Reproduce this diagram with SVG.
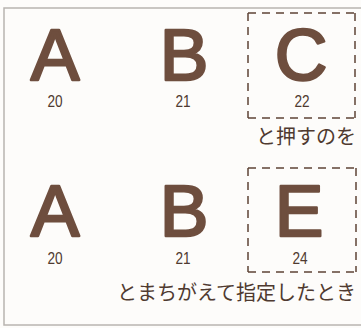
<svg xmlns="http://www.w3.org/2000/svg" width="361" height="328" viewBox="0 0 361 328">
<style>
.big{font-family:"Liberation Sans",Arial,sans-serif;font-weight:normal;font-size:73px;fill:#6e4e3e;stroke:#6e4e3e;stroke-width:2.4;stroke-linejoin:round;text-anchor:middle}
.num{font-family:"Liberation Sans",Arial,sans-serif;font-size:17px;fill:#4f3a30;text-anchor:middle}
.jp{font-family:"Noto Sans CJK JP","Noto Sans CJK SC",sans-serif;font-size:20px;fill:#4f3a30;text-anchor:end}
.dash{stroke:#5e4336;stroke-width:1.5;fill:none;stroke-dasharray:8 6}
</style>
<rect x="0" y="0" width="361" height="328" fill="#fdfcfa"/>
<rect x="4" y="8" width="370" height="317" fill="none" stroke="#b8b4b0" stroke-width="1.5"/>
<g id="row1-A"><text class="big" x="55" y="80">A</text><text class="num" x="55" y="107" transform="translate(55 0) scale(0.8 1) translate(-55 0)">20</text></g>
<g id="row1-B"><text class="big" x="184" y="80">B</text><text class="num" x="183" y="107" transform="translate(183 0) scale(0.8 1) translate(-183 0)">21</text></g>
<g id="row1-C"><text class="big" x="301" y="80">C</text><text class="num" x="302" y="107" transform="translate(302 0) scale(0.8 1) translate(-302 0)">22</text>
<g class="dash"><path d="M248 13H355"/><path d="M248 13V118"/><path d="M248 118H355"/><path d="M355 13V118"/></g></g>
<text class="jp" x="356" y="144">と押すのを</text>
<g id="row2-A"><text class="big" x="55" y="236">A</text><text class="num" x="55" y="264" transform="translate(55 0) scale(0.8 1) translate(-55 0)">20</text></g>
<g id="row2-B"><text class="big" x="184" y="236">B</text><text class="num" x="183" y="264" transform="translate(183 0) scale(0.8 1) translate(-183 0)">21</text></g>
<g id="row2-E"><text class="big" x="299" y="236">E</text><text class="num" x="300" y="264" transform="translate(300 0) scale(0.8 1) translate(-300 0)">24</text>
<g class="dash"><path d="M248 168H356"/><path d="M248 168V272"/><path d="M248 272H356"/><path d="M356 168V272"/></g></g>
<text class="jp" x="356" y="300">とまちがえて指定したとき</text>
</svg>
